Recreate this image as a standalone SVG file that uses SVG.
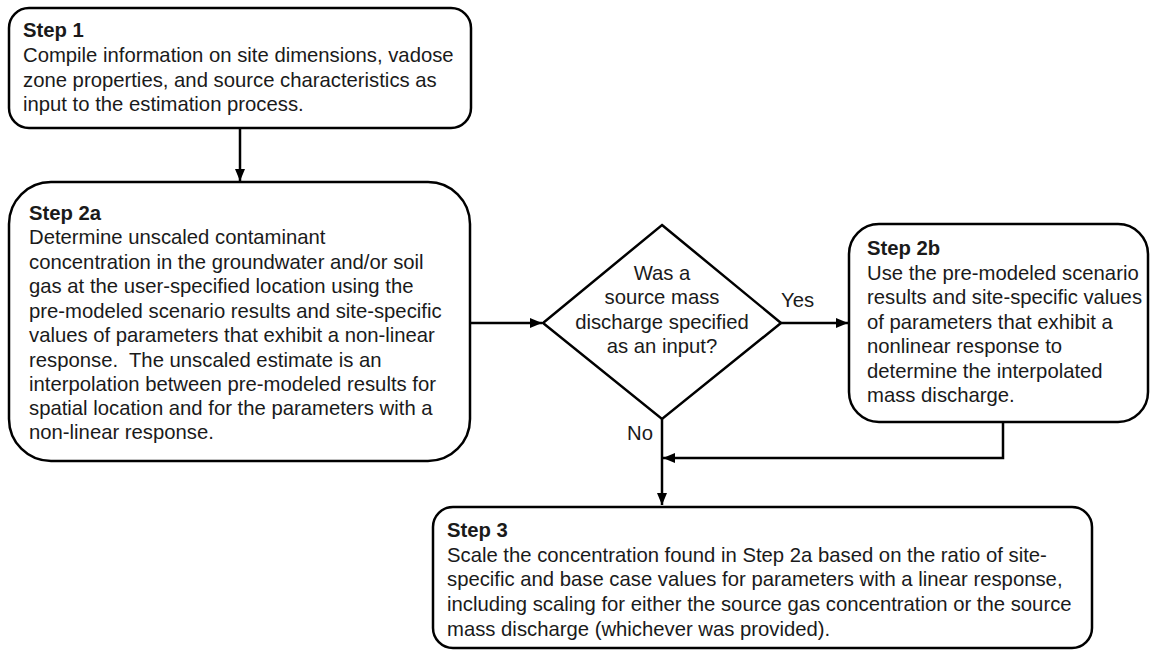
<svg xmlns="http://www.w3.org/2000/svg" width="1152" height="652" viewBox="0 0 1152 652">
<style>
.box{fill:#fff;stroke:#000;stroke-width:2.5}
.t{font-family:"Liberation Sans",Arial,sans-serif;font-size:20.3px;fill:#1a1a1a}
.b{font-weight:bold}
.c{fill:none;stroke:#000;stroke-width:2.5}
</style>
<defs>
<marker id="ah" viewBox="0 0 12 10" refX="12" refY="5" markerWidth="12" markerHeight="10" markerUnits="userSpaceOnUse" orient="auto">
<path d="M0,0 L12,5 L0,10 Z" fill="#000"/>
</marker>
</defs>
<g id="connectors">
<line class="c" x1="240" y1="128" x2="240" y2="181" marker-end="url(#ah)"/>
<line class="c" x1="470" y1="323" x2="542" y2="323" marker-end="url(#ah)"/>
<line class="c" x1="781" y1="323" x2="848" y2="323" marker-end="url(#ah)"/>
<line class="c" x1="662" y1="419" x2="662" y2="505" marker-end="url(#ah)"/>
<polyline class="c" points="1003,422 1003,458 663,458" marker-end="url(#ah)"/>
<text class="t" x="781" y="307">Yes</text>
<text class="t" x="627" y="440">No</text>
</g>
<g id="step1">
<rect class="box" x="9" y="8" width="462" height="120" rx="20"/>
<text class="t"><tspan class="b" x="23" y="37">Step 1</tspan><tspan x="23" y="62">Compile information on site dimensions, vadose</tspan><tspan x="23" y="87">zone properties, and source characteristics as</tspan><tspan x="23" y="111">input to the estimation process.</tspan></text>
</g>
<g id="step2a">
<rect class="box" x="9" y="182" width="461" height="279" rx="42"/>
<text class="t"><tspan class="b" x="29" y="220">Step 2a</tspan><tspan x="29" y="244">Determine unscaled contaminant</tspan><tspan x="29" y="269">concentration in the groundwater and/or soil</tspan><tspan x="29" y="293">gas at the user-specified location using the</tspan><tspan x="29" y="318">pre-modeled scenario results and site-specific</tspan><tspan x="29" y="342">values of parameters that exhibit a non-linear</tspan><tspan x="29" y="367">response.&#160; The unscaled estimate is an</tspan><tspan x="29" y="391">interpolation between pre-modeled results for</tspan><tspan x="29" y="415">spatial location and for the parameters with a</tspan><tspan x="29" y="439">non-linear response.</tspan></text>
</g>
<g id="decision">
<polygon class="box" points="662,225 781,323 662,419 543,323"/>
<text class="t" text-anchor="middle"><tspan x="662" y="280">Was a</tspan><tspan x="662" y="304">source mass</tspan><tspan x="662" y="329">discharge specified</tspan><tspan x="662" y="353">as an input?</tspan></text>
</g>
<g id="step2b">
<rect class="box" x="849" y="224" width="299" height="198" rx="30"/>
<text class="t"><tspan class="b" x="867" y="255">Step 2b</tspan><tspan x="867" y="280">Use the pre-modeled scenario</tspan><tspan x="867" y="304">results and site-specific values</tspan><tspan x="867" y="329">of parameters that exhibit a</tspan><tspan x="867" y="353">nonlinear response to</tspan><tspan x="867" y="378">determine the interpolated</tspan><tspan x="867" y="402">mass discharge.</tspan></text>
</g>
<g id="step3">
<rect class="box" x="433" y="507" width="659" height="141" rx="20"/>
<text class="t"><tspan class="b" x="447" y="537">Step 3</tspan><tspan x="447" y="562">Scale the concentration found in Step 2a based on the ratio of site-</tspan><tspan x="447" y="586">specific and base case values for parameters with a linear response,</tspan><tspan x="447" y="611">including scaling for either the source gas concentration or the source</tspan><tspan x="447" y="636">mass discharge (whichever was provided).</tspan></text>
</g>
</svg>
